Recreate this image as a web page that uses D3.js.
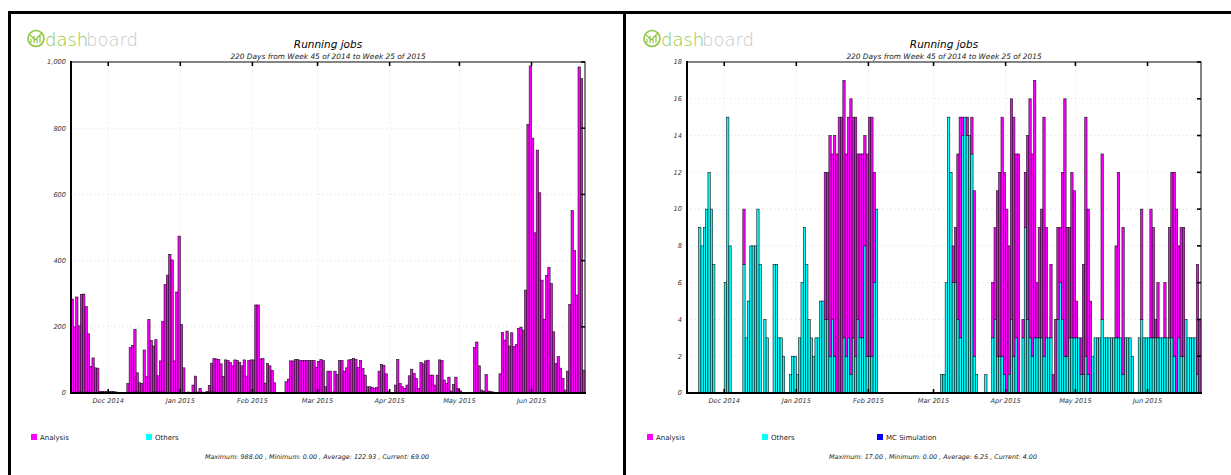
<!DOCTYPE html>
<html>
<head>
<meta charset="utf-8">
<script src="https://cdn.jsdelivr.net/npm/d3@7"></script>
<style>
body { margin: 0; background: #fff; }
svg text { font-family: "DejaVu Sans", sans-serif; }
</style>
</head>
<body>
<svg id="chart" width="1231" height="475"></svg>
<script>
// days: Nov 15 2014 .. Jun 23 2015 (221 daily bins)
const firstDay = Date.UTC(2014, 10, 15);
const lastDay = Date.UTC(2015, 5, 24);

const seriesNames = ['Analysis', 'Others', 'MC Simulation'];
const seriesColors = ['#ff00ff', '#00ffff', '#0000ff'];

// left panel, running jobs
const analysisL = [
  284,200,290,200,295,297,258,176,80,106,
  76,75,5,5,4,4,5,5,4,3,
  0,0,0,0,29,137,140,189,58,29,
  29,130,49,222,159,139,158,49,94,213,
  326,356,419,402,97,305,474,207,76,2,
  3,2,24,51,3,14,3,2,5,20,
  87,101,101,101,88,50,100,98,92,82,
  100,98,92,82,100,49,95,98,100,266,
  266,103,104,30,89,82,68,31,0,0,
  1,1,34,42,97,97,101,101,98,98,
  98,98,98,98,98,78,96,101,98,19,
  66,66,3,66,56,98,98,66,76,100,
  102,104,101,77,98,74,54,19,19,17,
  14,17,66,86,84,58,4,2,2,24,
  101,29,19,14,24,52,72,59,44,14,
  92,88,97,99,54,54,24,54,100,98,
  39,29,48,6,26,48,14,6,1,0,
  0,0,0,137,154,82,9,6,56,6,
  2,0,0,0,58,183,160,187,142,182,
  140,146,195,199,190,311,812,988,770,484,
  734,605,341,223,355,380,331,185,89,110,
  75,44,9,66,268,551,431,296,985,950,
  69
];
const othersL = [
  0,0,0,3,3,2,3,3,0,0,
  0,0,0,0,0,0,0,0,0,0,
  0,0,0,0,0,0,3,3,3,2,
  0,0,0,0,0,3,3,3,3,3,
  2,0,0,0,0,0,0,0,0,0,
  0,0,0,0,0,0,0,0,0,3,
  3,3,2,0,0,0,0,0,0,0,
  0,0,0,0,0,2,3,2,0,0,
  0,0,0,0,0,0,0,0,0,0,
  0,0,0,0,0,0,0,0,0,0,
  0,0,0,0,0,0,0,0,0,0,
  0,0,0,0,0,0,0,0,0,0,
  0,0,0,0,0,0,0,0,0,0,
  0,0,0,0,0,0,0,0,0,0,
  0,0,0,0,0,0,0,0,0,0,
  0,0,0,0,0,0,0,0,0,0,
  0,0,0,0,0,0,0,0,0,0,
  0,0,0,0,0,0,0,0,0,0,
  2,3,2,0,0,0,0,0,0,0,
  0,0,0,0,0,0,0,0,0,0,
  0,0,0,0,0,0,0,0,0,0,
  0,0,0,0,0,0,0,0,0,0,
  0
];

// right panel, running jobs
const analysisR = [
  0,0,0,0,0,0,0,0,0,0,
  0,0,0,0,0,0,0,0,0,0,
  0,0,0,0,3,0,0,0,0,0,
  0,0,0,0,0,0,0,0,0,0,
  0,0,0,0,0,0,0,0,0,0,
  0,0,0,0,0,0,0,0,0,8,
  8,12,9,12,13,15,15,14,11,12,
  15,12,13,9,10,10,6,11,13,13,
  6,0,0,0,0,0,0,0,0,0,
  0,0,0,0,0,0,0,0,0,0,
  0,0,0,0,0,0,0,0,0,0,
  0,0,0,0,2,3,9,12,1,0,
  1,0,2,9,0,0,0,0,0,0,
  0,3,5,9,10,13,11,10,7,12,
  13,10,13,0,1,3,10,13,11,14,
  3,6,7,13,6,0,4,1,4,5,
  3,8,14,7,6,9,8,2,0,2,
  6,13,9,5,0,0,0,0,9,0,
  0,0,0,0,5,9,0,8,0,0,
  0,0,0,0,0,6,0,0,0,7,
  6,1,3,0,0,3,0,6,9,10,
  10,5,7,7,0,0,0,0,0,6,
  4
];
const othersR = [
  0,0,0,0,0,9,8,9,10,12,
  10,7,0,0,0,0,6,15,8,0,
  0,0,0,0,7,3,5,8,8,8,
  10,7,0,4,3,0,0,7,7,3,
  3,2,0,0,1,2,2,1,3,6,
  9,7,4,3,2,3,3,5,5,4,
  4,2,4,2,0,0,0,3,2,3,
  1,3,2,4,3,3,8,2,2,2,
  6,10,0,0,0,0,0,0,0,0,
  0,0,0,0,0,0,0,0,0,0,
  0,0,0,0,0,0,0,0,0,1,
  1,6,15,12,6,6,4,3,14,15,
  14,14,13,2,1,0,0,0,1,0,
  0,3,4,2,2,2,1,0,1,4,
  2,3,0,0,3,9,4,3,2,3,
  3,3,3,2,3,3,3,0,0,4,
  6,4,2,2,3,3,3,3,3,1,
  1,2,1,0,2,3,3,3,4,3,
  3,3,3,3,3,3,3,1,3,3,
  3,2,0,0,3,4,3,3,3,3,
  3,3,3,3,3,3,3,3,3,2,
  0,3,2,2,4,3,3,3,3,1,
  0
];

const yTicksL = [0, 200, 400, 600, 800, 1000];
const yTicksR = [0, 2, 4, 6, 8, 10, 12, 14, 16, 18];
const statsL = 'Maximum: 988.00 , Minimum: 0.00 , Average: 122.93 , Current: 69.00';
const statsR = 'Maximum: 17.00 , Minimum: 0.00 , Average: 6.25 , Current: 4.00';

const svg = d3.select('#chart');
const days = d3.utcDay.range(new Date(firstDay), new Date(lastDay));
const months = d3.utcMonth.range(new Date(Date.UTC(2014, 11, 1)), new Date(lastDay));
const color = d3.scaleOrdinal().domain(seriesNames).range(seriesColors);

function drawPanel(p) {
    const g = svg.append('g');
    const x = d3.scaleUtc()
        .domain([new Date(firstDay), new Date(lastDay)])
        .range([p.left, p.left + 514]);
    const y = d3.scaleLinear()
        .domain([0, p.yMax])
        .range([393, 62]);

    // logo
    const logo = g.append('g').attr('transform', `translate(${p.left - 71},0)`);
    logo.append('circle').attr('cx', 36).attr('cy', 38.5).attr('r', 8)
        .attr('fill', 'none').attr('stroke', '#8dc63f').attr('stroke-width', 1.6);
    logo.append('path').attr('d', 'M31,43 L31,39 M34,43 L34,36 M37,43 L37,38 M40,43 L40,35 M30,35 L35,40 L42,33')
        .attr('fill', 'none').attr('stroke', '#8dc63f').attr('stroke-width', 1.2);
    const word = logo.append('text').attr('y', 45.5)
        .attr('font-family', 'Lato').attr('font-weight', 300).attr('font-size', 18);
    word.append('tspan').attr('x', 45).attr('fill', '#8dc63f').text('dash');
    word.append('tspan').attr('x', 86).attr('fill', '#c8c8c8').text('board');

    // titles
    g.append('text').attr('x', p.left + 257).attr('y', 48)
        .attr('text-anchor', 'middle').attr('font-size', 10.5)
        .attr('font-style', 'italic').attr('fill', '#000')
        .text('Running jobs');
    g.append('text').attr('x', p.left + 257).attr('y', 59)
        .attr('text-anchor', 'middle').attr('font-size', 7.4)
        .attr('font-style', 'italic').attr('fill', '#222')
        .text('220 Days from Week 45 of 2014 to Week 25 of 2015');

    // grid
    g.selectAll('.hgrid').data(p.yTicks.slice(1, -1)).enter().append('line')
        .attr('x1', p.left).attr('x2', p.left + 514)
        .attr('y1', d => y(d)).attr('y2', d => y(d))
        .attr('stroke', '#d8d8d8').attr('stroke-width', 0.8).attr('stroke-dasharray', '1,3');
    g.selectAll('.vgrid').data(months).enter().append('line')
        .attr('x1', d => x(d)).attr('x2', d => x(d))
        .attr('y1', 62).attr('y2', 393)
        .attr('stroke', '#d8d8d8').attr('stroke-width', 0.8).attr('stroke-dasharray', '1,3');

    // bars
    const rows = days.map((d, i) => {
        const r = {date: d};
        p.keys.forEach(k => { r[k] = p.values[k][i]; });
        return r;
    });
    const stacked = d3.stack().keys(p.keys)(rows);
    g.selectAll('.layer').data(stacked).enter().append('g')
        .attr('fill', d => color(d.key))
        .selectAll('rect').data(d => d.filter(v => v[1] > v[0])).enter().append('rect')
        .attr('x', d => x(d.data.date))
        .attr('width', d => x(d3.utcDay.offset(d.data.date, 1)) - x(d.data.date))
        .attr('y', d => y(d[1]))
        .attr('height', d => y(d[0]) - y(d[1]))
        .attr('stroke', '#111').attr('stroke-width', 0.6);

    // frame
    g.append('rect').attr('x', p.left).attr('y', 62).attr('width', 514).attr('height', 331)
        .attr('fill', 'none').attr('stroke', '#333').attr('stroke-width', 1.2);
    g.append('line').attr('x1', p.left).attr('x2', p.left).attr('y1', 61).attr('y2', 394)
        .attr('stroke', '#000').attr('stroke-width', 2);
    g.append('line').attr('x1', p.left - 1).attr('x2', p.left + 515).attr('y1', 393).attr('y2', 393)
        .attr('stroke', '#000').attr('stroke-width', 2);

    // month ticks on top and bottom
    g.selectAll('.ttick').data(months).enter().append('line')
        .attr('x1', d => x(d)).attr('x2', d => x(d)).attr('y1', 62).attr('y2', 66)
        .attr('stroke', '#000').attr('stroke-width', 1.6);
    g.selectAll('.btick').data(months).enter().append('line')
        .attr('x1', d => x(d)).attr('x2', d => x(d)).attr('y1', 389).attr('y2', 393)
        .attr('stroke', '#000').attr('stroke-width', 1.6);
    g.selectAll('.mlabel').data(months).enter().append('text')
        .attr('x', d => x(d)).attr('y', 403)
        .attr('text-anchor', 'middle').attr('font-size', 6.6)
        .attr('font-style', 'italic').attr('fill', '#333')
        .text(d3.utcFormat('%b %Y'));

    // y ticks on the right edge, labels on the left
    g.selectAll('.rtick').data(p.yTicks).enter().append('line')
        .attr('x1', p.left + 510).attr('x2', p.left + 514)
        .attr('y1', d => y(d)).attr('y2', d => y(d))
        .attr('stroke', '#000').attr('stroke-width', 1.6);
    g.selectAll('.ylabel').data(p.yTicks).enter().append('text')
        .attr('x', p.left - 5).attr('y', d => y(d) + 2.3)
        .attr('text-anchor', 'end').attr('font-size', 6.6)
        .attr('font-style', 'italic').attr('fill', '#333')
        .text(d => d3.format(',')(d));

    // legend
    const lg = g.selectAll('.legend').data(p.legend).enter().append('g')
        .attr('transform', (d, i) => `translate(${p.left - 40 + i * 115},434)`);
    lg.append('rect').attr('width', 6).attr('height', 6).attr('fill', d => color(d));
    lg.append('text').attr('x', 9).attr('y', 6).attr('font-size', 7)
        .attr('fill', '#222').text(d => d);

    // stats
    g.append('text').attr('x', p.left + 246).attr('y', 459)
        .attr('text-anchor', 'middle').attr('font-size', 6.4)
        .attr('font-style', 'italic').attr('fill', '#222')
        .text(p.stats);
}

drawPanel({
    left: 71, yMax: 1000, yTicks: yTicksL,
    keys: ['Others', 'Analysis'],
    values: {Others: othersL, Analysis: analysisL},
    legend: ['Analysis', 'Others'], stats: statsL
});
drawPanel({
    left: 687, yMax: 18, yTicks: yTicksR,
    keys: ['Others', 'Analysis'],
    values: {Others: othersR, Analysis: analysisR},
    legend: ['Analysis', 'Others', 'MC Simulation'], stats: statsR
});

// screenshot borders
svg.append('path')
    .attr('d', 'M9.5,480 L9.5,12.5 L1240,12.5 M624.5,12.5 L624.5,480')
    .attr('fill', 'none').attr('stroke', '#000').attr('stroke-width', 3);
</script>
</body>
</html>
